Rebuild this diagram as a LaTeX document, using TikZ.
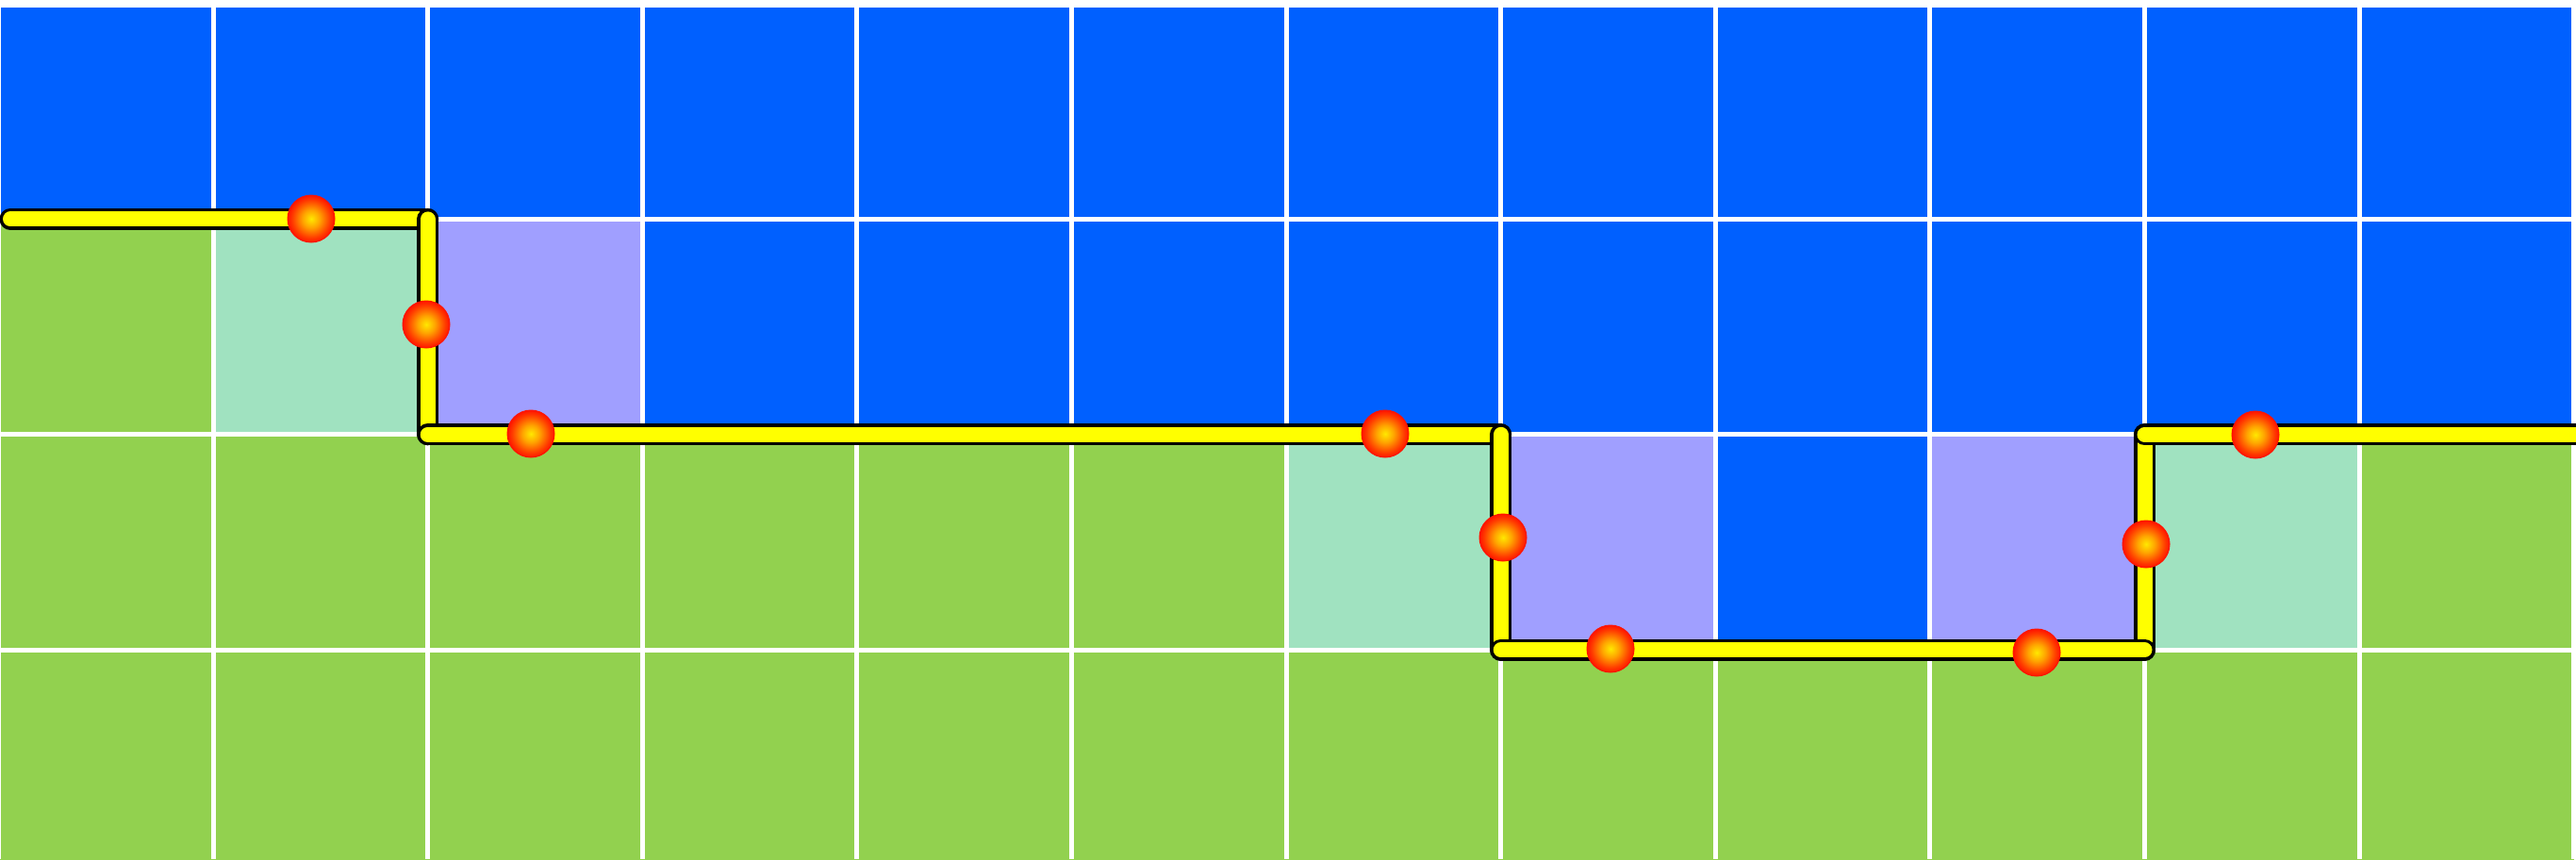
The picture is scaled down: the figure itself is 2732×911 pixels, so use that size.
\documentclass[tikz,border=0pt]{standalone}
\definecolor{cB}{RGB}{0,96,255}
\definecolor{cG}{RGB}{146,209,79}
\definecolor{cT}{RGB}{160,226,192}
\definecolor{cL}{RGB}{160,159,255}
\definecolor{dotA}{RGB}{255,232,0}
\definecolor{dotB}{RGB}{255,165,0}
\definecolor{dotC}{RGB}{255,60,0}
\definecolor{dotD}{RGB}{255,20,0}
\definecolor{trackY}{RGB}{255,255,0}
\pgfdeclareradialshading{ballshade}{\pgfpoint{0bp}{0bp}}{color(0bp)=(dotA); color(9bp)=(dotB); color(20bp)=(dotC); color(25bp)=(dotD); color(50bp)=(dotD)}
\begin{document}
\begin{tikzpicture}[x=1pt,y=-1pt,
  gridline/.style={white,line width=5pt},
  track/.style={trackY,line width=16pt,line cap=round,preaction={draw=black,line width=23pt,line cap=round}},
  dot/.style={circle,minimum size=50pt,inner sep=0pt,shading=ballshade,shade,draw=dotD,line width=1pt}]
\useasboundingbox (0,0) rectangle (2732,911);
\clip (0,0) rectangle (2732,911);
\fill[white] (0,0) rectangle (2732,911);
\def\cw{227.6}\def\ch{228.4}\def\xo{-1.5}\def\yo{4}
\foreach \r/\l in {0/{B,B,B,B,B,B,B,B,B,B,B,B},
                   1/{G,T,L,B,B,B,B,B,B,B,B,B},
                   2/{G,G,G,G,G,G,T,L,B,L,T,G},
                   3/{G,G,G,G,G,G,G,G,G,G,G,G}}{
  \foreach \c [count=\i from 0] in \l {
    \fill[c\c] ({\xo+\i*\cw},{\yo+\r*\ch}) rectangle ({\xo+(\i+1)*\cw},{\yo+(\r+1)*\ch});
  }
}
\foreach \k in {0,...,12} \draw[gridline] ({\xo+\k*\cw},0) -- ({\xo+\k*\cw},911);
\foreach \j in {0,...,4} \draw[gridline] (0,{\yo+\j*\ch}) -- (2732,{\yo+\j*\ch});
\fill[white] (0,0) rectangle (2732,8);
% path corners
\coordinate (p0) at (11,232.4);
\coordinate (p1) at (453.7,232.4);
\coordinate (p2) at (453.7,460.8);
\coordinate (p3) at (1591.7,460.8);
\coordinate (p4) at (1591.7,689.2);
\coordinate (p5) at (2274.5,689.2);
\coordinate (p6) at (2274.5,460.8);
\coordinate (p7) at (2760,460.8);
\draw[track] (p0) -- (p1);
\draw[track] (p1) -- (p2);
\draw[track] (p2) -- (p3);
\draw[track] (p3) -- (p4);
\draw[track] (p5) -- (p6);
\draw[track] (p4) -- (p5);
\draw[track] (p6) -- (p7);
% dots
\node[dot] (d1) at (330,232) {};
\node[dot] (d2) at (452,344) {};
\node[dot] (d3) at (563,460) {};
\node[dot] (d4) at (1469,460) {};
\node[dot] (d5) at (1594,570) {};
\node[dot] (d6) at (1708,688) {};
\node[dot] (d7) at (2160,692) {};
\node[dot] (d8) at (2276,577) {};
\node[dot] (d9) at (2392,461) {};
\end{tikzpicture}
\end{document}
